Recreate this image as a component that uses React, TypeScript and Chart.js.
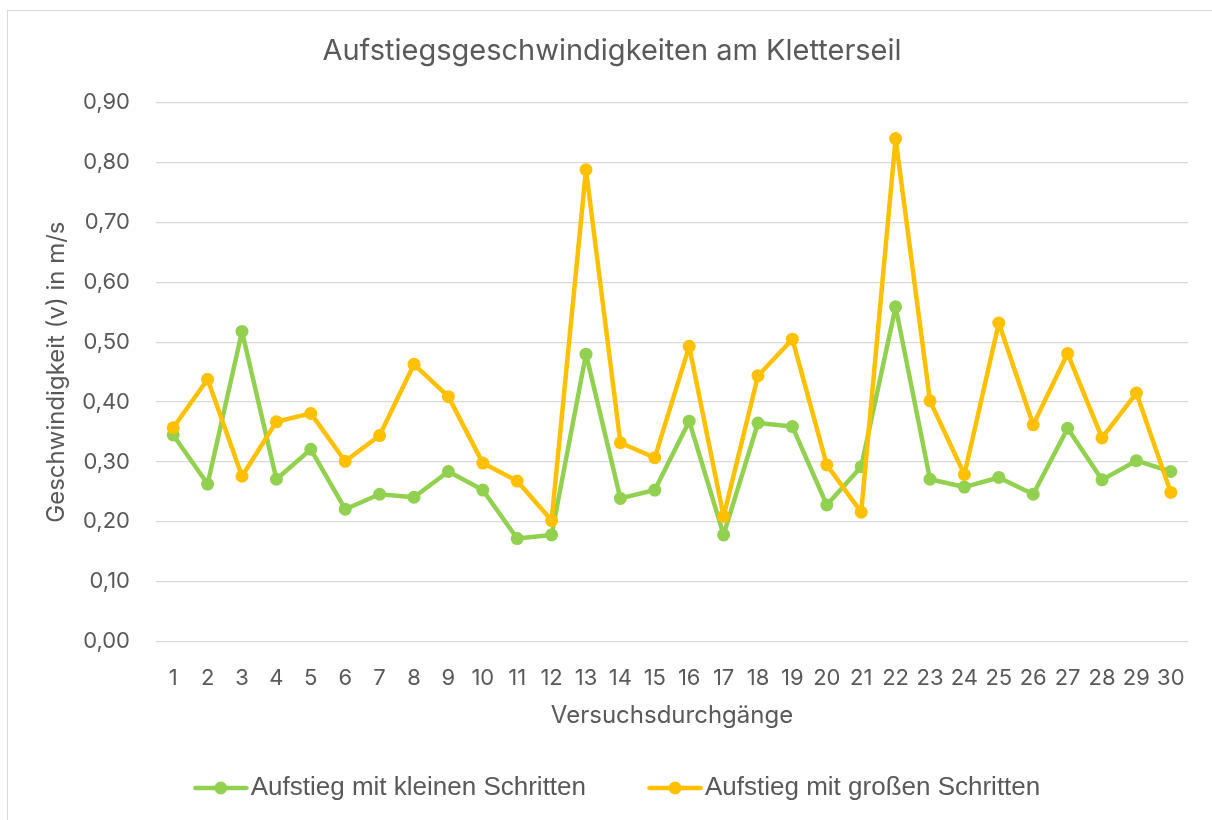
import React, { useEffect, useRef } from "react";
import { Chart, registerables } from "chart.js";

Chart.register(...registerables);

const chartTitle = "Aufstiegsgeschwindigkeiten am Kletterseil";
const xAxisTitle = "Versuchsdurchgänge";
const yAxisTitle = "Geschwindigkeit (v) in m/s";

const categories = [
  "1", "2", "3", "4", "5", "6", "7", "8", "9", "10",
  "11", "12", "13", "14", "15", "16", "17", "18", "19", "20",
  "21", "22", "23", "24", "25", "26", "27", "28", "29", "30",
];

const smallStepsLabel = "Aufstieg mit kleinen Schritten";
const smallSteps = [
  0.345, 0.263, 0.518, 0.271, 0.321, 0.221, 0.246, 0.241, 0.284, 0.253,
  0.172, 0.178, 0.48, 0.239, 0.253, 0.368, 0.178, 0.365, 0.359, 0.228,
  0.292, 0.559, 0.271, 0.258, 0.274, 0.246, 0.356, 0.27, 0.302, 0.284,
];

const bigStepsLabel = "Aufstieg mit großen Schritten";
const bigSteps = [
  0.357, 0.438, 0.276, 0.367, 0.381, 0.301, 0.344, 0.463, 0.409, 0.298,
  0.268, 0.202, 0.788, 0.332, 0.307, 0.493, 0.209, 0.444, 0.505, 0.295,
  0.216, 0.84, 0.402, 0.279, 0.532, 0.362, 0.481, 0.34, 0.415, 0.249,
];

const yMin = 0;
const yMax = 0.9;
const yStep = 0.1;

const GREEN = "#92d050";
const ORANGE = "#ffc000";
const TEXT = "#595959";
const GRID = "#d9d9d9";
const FONT = "Inter, 'Liberation Sans', sans-serif";
const LEGEND_FONT = "'Liberation Sans', Arial, sans-serif";

function makeMarker(color: string): HTMLCanvasElement {
  const c = document.createElement("canvas");
  c.width = 56;
  c.height = 16;
  const g = c.getContext("2d")!;
  g.strokeStyle = color;
  g.lineWidth = 4.5;
  g.lineCap = "round";
  g.beginPath();
  g.moveTo(2.5, 8);
  g.lineTo(53.5, 8);
  g.stroke();
  g.fillStyle = color;
  g.beginPath();
  g.arc(28, 8, 6.5, 0, Math.PI * 2);
  g.fill();
  return c;
}

export default function App() {
  const ref = useRef<HTMLCanvasElement | null>(null);

  useEffect(() => {
    if (!ref.current) return;
    const markers: Record<string, HTMLCanvasElement> = {
      [smallStepsLabel]: makeMarker(GREEN),
      [bigStepsLabel]: makeMarker(ORANGE),
    };
    const legendShift = {
      id: "legendShift",
      afterLayout(chart: any) {
        if (chart.legend) {
          chart.legend.left += 10;
          chart.legend.right += 10;
        }
      },
    };
    const lineStyle = {
      borderWidth: 4.5,
      pointRadius: 6.5,
      pointHoverRadius: 6.5,
      pointBorderWidth: 0,
      tension: 0,
      borderJoinStyle: "round",
      borderCapStyle: "round",
    };
    const chart = new Chart(ref.current, {
      type: "line",
      data: {
        labels: categories,
        datasets: [
          {
            label: bigStepsLabel,
            data: bigSteps,
            borderColor: ORANGE,
            backgroundColor: ORANGE,
            pointBackgroundColor: ORANGE,
            pointBorderColor: ORANGE,
            ...lineStyle,
          },
          {
            label: smallStepsLabel,
            data: smallSteps,
            borderColor: GREEN,
            backgroundColor: GREEN,
            pointBackgroundColor: GREEN,
            pointBorderColor: GREEN,
            ...lineStyle,
          },
        ],
      },
      options: {
        responsive: false,
        animation: false,
        devicePixelRatio: 1,
        layout: { padding: { left: 28, right: 28, top: 0, bottom: 9 } },
        plugins: {
          title: {
            display: true,
            text: chartTitle,
            color: TEXT,
            font: { family: FONT, size: 29, weight: "normal" },
            padding: { top: 22.6, bottom: 34.3 },
          },
          legend: {
            display: true,
            position: "bottom",
            labels: {
              usePointStyle: true,
              pointStyleWidth: 34,
              color: TEXT,
              font: { family: LEGEND_FONT, size: 26 },
              padding: 72,
              sort: (a: any, b: any) => b.datasetIndex - a.datasetIndex,
              generateLabels: (c: any) => {
                const items = Chart.defaults.plugins.legend.labels.generateLabels(c);
                return items.map((it: any) => ({
                  ...it,
                  pointStyle: markers[it.text],
                  lineWidth: 0,
                }));
              },
            },
          },
          tooltip: { enabled: false },
        },
        scales: {
          x: {
            offset: true,
            grid: { display: false },
            border: { display: false },
            ticks: {
              color: TEXT,
              font: { family: FONT, size: 22 },
              padding: 16,
              autoSkip: false,
              maxRotation: 0,
              minRotation: 0,
            },
            title: {
              display: true,
              text: xAxisTitle,
              color: TEXT,
              font: { family: FONT, size: 24 },
              padding: { top: 0, bottom: -27.4 },
            },
            afterFit: (s: any) => {
              s.height = 61.5;
            },
          },
          y: {
            min: yMin,
            max: yMax,
            grid: { color: GRID, lineWidth: 1.3, drawTicks: false },
            border: { display: false },
            ticks: {
              stepSize: yStep,
              color: TEXT,
              font: { family: FONT, size: 22 },
              padding: 26,
              callback: (v: any) => Number(v).toFixed(2).replace(".", ","),
            },
            title: {
              display: true,
              text: yAxisTitle,
              color: TEXT,
              font: { family: FONT, size: 24 },
              padding: { top: 6.6, bottom: 0 },
            },
            afterFit: (s: any) => {
              s.width = 120;
            },
          },
        },
      },
      plugins: [legendShift],
    } as any);
    return () => chart.destroy();
  }, []);

  return (
    <div
      style={{
        position: "fixed",
        inset: 0,
        overflow: "hidden",
        background: "#ffffff",
      }}
    >
      <div
        style={{
          position: "absolute",
          left: 7,
          top: 10,
          width: 1220,
          height: 830,
          border: "1px solid #d9d9d9",
          boxSizing: "border-box",
          background: "#ffffff",
        }}
      >
        <canvas
          ref={ref}
          width={1208}
          height={809}
          style={{ position: "absolute", left: 0, top: 0, width: 1208, height: 809 }}
        />
      </div>
    </div>
  );
}
